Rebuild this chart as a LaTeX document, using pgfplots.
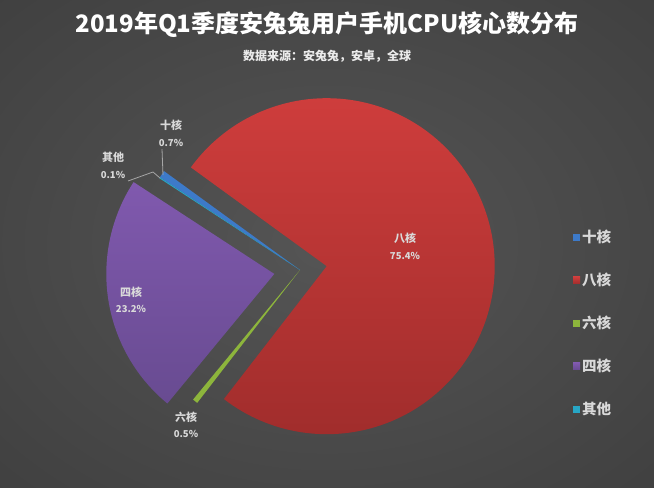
\documentclass[border=0pt]{standalone}
\usepackage{pgfplots}
\pgfplotsset{compat=1.18}
\usepackage{fontspec}
\setmainfont{Noto Sans CJK SC}

\definecolor{bgin}{HTML}{555555}
\definecolor{bgout}{HTML}{2B2B2B}
\definecolor{cblue}{HTML}{3D7AC9}
\definecolor{credA}{HTML}{CE3D3C}
\definecolor{credB}{HTML}{A12D2C}
\definecolor{cgreen}{HTML}{8DB53C}
\definecolor{cpurA}{HTML}{8059AE}
\definecolor{cpurB}{HTML}{684B91}
\definecolor{ccyan}{HTML}{27A6C5}
\definecolor{labc}{HTML}{D9D9D9}

\pgfdeclareradialshading{bgshade}{\pgfpoint{0bp}{0bp}}{color(0bp)=(bgin); color(72bp)=(bgout)}

% pie centre, radius (pixels), running angle
\def\cx{300}
\def\cy{270}
\def\rr{168}
\def\tot{99.9}
\def\cum{146.5}

% #1 value (%), #2 explosion (px), #3 fill options, #4 legend text
\newcommand\pieslice[4]{%
  \pgfmathsetmacro\aA{\cum}%
  \pgfmathsetmacro\aB{\cum-#1/\tot*360}%
  \pgfmathsetmacro\aM{(\aA+\aB)/2}%
  \pgfmathsetmacro\ox{\cx+#2*cos(\aM)}%
  \pgfmathsetmacro\oy{\cy-#2*sin(\aM)}%
  \edef\doit{\noexpand\addplot[#3, draw=none, domain=\aB:\aA, samples=150]
     ({\ox+\rr*cos(x)},{\oy-\rr*sin(x)}) -- (axis cs:\ox,\oy) -- cycle;}%
  \doit
  \addlegendentry{#4}%
  \global\let\cum\aB
}

\begin{document}
\begin{tikzpicture}
\shade[shading=bgshade] (0,0) rectangle (654bp,488bp);
\begin{axis}[
    scale only axis,
    width=654bp, height=488bp,
    xmin=0, xmax=654, ymin=0, ymax=488,
    y dir=reverse,
    hide axis,
    clip=false,
    legend image code/.code={\fill[#1] (0bp,-3.5bp) rectangle (7bp,3.5bp);},
    legend style={at={(axis cs:573,236)}, anchor=north west, yshift=8bp,
        draw=none, fill=none, text=labc,
        font=\fontsize{14.5bp}{17bp}\selectfont\bfseries,
        row sep=25bp, inner sep=0pt,
        nodes={inner sep=2bp}},
    legend cell align=left,
]
\pieslice{0.7}{0}{fill=cblue}{十核}
\pieslice{75.4}{27}{top color=credA, bottom color=credB}{八核}
\pieslice{0.5}{0}{fill=cgreen}{六核}
\pieslice{23.2}{26}{top color=cpurA, bottom color=cpurB}{四核}
\pieslice{0.1}{0}{fill=ccyan}{其他}

% leader lines
\draw[color=black!35, line width=0.8bp] (axis cs:162,149) -- (axis cs:163,175);
\draw[color=black!35, line width=0.8bp] (axis cs:128,181) -- (axis cs:153,172) -- (axis cs:160,178);

% data labels
\tikzset{lab/.style={text=labc, font=\fontsize{11bp}{12bp}\selectfont\bfseries, inner sep=0pt},
         pct/.style={text=labc, font=\fontsize{9.5bp}{11bp}\selectfont\bfseries, inner sep=0pt}}
\node[lab] at (axis cs:171,125) {十核};
\node[pct] at (axis cs:171,143) {0.7\%};
\node[lab] at (axis cs:113,157) {其他};
\node[pct] at (axis cs:113,175) {0.1\%};
\node[lab] at (axis cs:405,238) {八核};
\node[pct] at (axis cs:405,256) {75.4\%};
\node[lab] at (axis cs:131,292) {四核};
\node[pct] at (axis cs:131,309) {23.2\%};
\node[lab] at (axis cs:186,417) {六核};
\node[pct] at (axis cs:186,434) {0.5\%};

% titles
\node[text=white, font=\fontsize{24bp}{26bp}\selectfont\bfseries] at (axis cs:327,25)
  {2019年Q1季度安兔兔用户手机CPU核心数分布};
\node[text=white!92!black, font=\fontsize{12bp}{14bp}\selectfont\bfseries] at (axis cs:327,56)
  {数据来源：安兔兔，安卓，全球};
\end{axis}
\end{tikzpicture}
\end{document}
